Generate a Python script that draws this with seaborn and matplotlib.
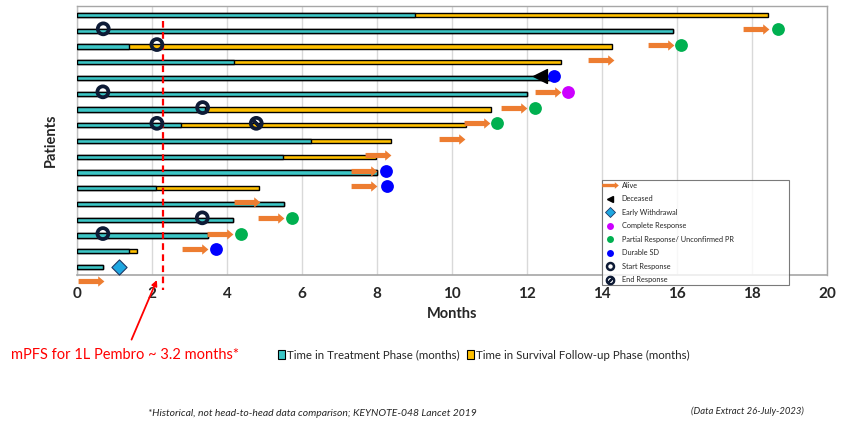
import numpy as np
import pandas as pd
import seaborn as sns
import matplotlib
matplotlib.use("Agg")
import matplotlib.pyplot as plt
from matplotlib.path import Path
from matplotlib.lines import Line2D
from matplotlib.patches import Patch

# ---------------- data ----------------
patients = [f"Patient {i}" for i in range(1, 18)]
treatment_months = [9.0, 15.9, 1.39, 4.19, 12.6, 12.0, 3.4, 2.78, 6.24, 5.5, 8.0, 2.1, 5.52, 4.17, 3.49, 1.39, 0.69]
total_months = [18.43, 15.9, 14.27, 12.9, 12.6, 12.0, 11.04, 10.37, 8.37, 7.97, 8.0, 4.86, 5.52, 4.17, 3.49, 1.6, 0.69]

# row positions are 0-based (0 = top patient)
alive_row = [1, 2, 3, 5, 6, 7, 8, 9, 10, 11, 12, 13, 14, 15, 17]
alive_end = [18.45, 15.9, 14.3, 12.9, 12.0, 11.0, 10.35, 8.37, 8.0, 8.0, 4.86, 5.52, 4.16, 3.49, 0.7]

deceased_row = [4]
deceased_x = [12.35]

withdrawal_row = [16]
withdrawal_x = [1.12]

complete_row = [5]
complete_x = [13.1]

partial_row = [1, 2, 6, 7, 13, 14]
partial_x = [18.7, 16.1, 12.2, 11.2, 5.73, 4.37]

durable_row = [4, 10, 11, 15]
durable_x = [12.72, 8.24, 8.26, 3.71]

start_row = [1, 2, 5, 6, 7, 13, 14]
start_x = [0.7, 2.13, 0.69, 3.35, 2.13, 3.34, 0.69]

end_row = [7]
end_x = [4.78]

mpfs_x = 2.29
x_ticks = list(range(0, 21, 2))

# ---------------- style ----------------
TEAL = "#3CC6C6"
GOLD = "#FFC000"
ORANGE = "#ED7D31"
GREEN = "#00B050"
BLUE = "#0000FF"
MAGENTA = "#CC00FF"
DIAMOND = "#1EA7E1"
NAVY = "#0E1B36"

sns.set_style("white")
plt.rcParams["font.family"] = ["Lato", "DejaVu Sans"]

fig = plt.figure(figsize=(8.42, 4.28), dpi=100)
ax = fig.add_axes([77 / 842, 1 - 275 / 428, 750 / 842, 269 / 428])

df = pd.DataFrame({"patient": patients, "treatment": treatment_months, "total": total_months})
sns.barplot(data=df, x="total", y="patient", orient="h", color=GOLD, saturation=1,
            width=0.28, edgecolor="black", linewidth=1, ax=ax, zorder=3)
sns.barplot(data=df, x="treatment", y="patient", orient="h", color=TEAL, saturation=1,
            width=0.28, edgecolor="black", linewidth=1, ax=ax, zorder=3)

# block-arrow marker
arrow_path = Path([(-0.5, -0.1), (0.26, -0.1), (0.26, -0.2), (0.5, 0.0),
                   (0.26, 0.2), (0.26, 0.1), (-0.5, 0.1), (-0.5, -0.1)],
                  [Path.MOVETO] + [Path.LINETO] * 6 + [Path.CLOSEPOLY])

off = 0.12
ARROW_LEN = 0.68
ax.scatter(np.array(alive_end) - ARROW_LEN / 2, np.array(alive_row) - off, marker=arrow_path,
           s=18.6 ** 2, color=ORANGE, linewidths=0, zorder=5, clip_on=False)
ax.scatter(deceased_x, np.array(deceased_row) - off, marker="<", s=100, color="black", zorder=6)
ax.scatter(durable_x, np.array(durable_row) - off, marker="o", s=85, color=BLUE, linewidths=0, zorder=5)
ax.scatter(partial_x, np.array(partial_row) - off, marker="o", s=85, color=GREEN, linewidths=0, zorder=5)
ax.scatter(complete_x, np.array(complete_row) - off, marker="o", s=85, color=MAGENTA, linewidths=0, zorder=5)
ax.scatter(withdrawal_x, np.array(withdrawal_row), marker="D", s=60, color=DIAMOND,
           edgecolors="#1F3864", linewidths=0.8, zorder=5)
ax.scatter(start_x, np.array(start_row) - off, marker="o", s=62, facecolors="none",
           edgecolors=NAVY, linewidths=2.7, zorder=6)
ax.scatter(end_x, np.array(end_row) - off, marker="o", s=62, facecolors="none",
           edgecolors=NAVY, linewidths=2.7, zorder=6)
ax.scatter(end_x, np.array(end_row) - off, marker=(2, 2, 45), s=45,
           color=NAVY, linewidths=2.4, zorder=7)

# mPFS line
ax.plot([mpfs_x, mpfs_x], [0.38, 17.45], color="#FF0000", lw=1.6, ls=(0, (3, 2)),
        zorder=4, clip_on=False)

ax.set_xlim(0, 20)
ax.set_ylim(16.51, -0.57)
ax.set_xticks(x_ticks)
ax.set_xticklabels([str(t) for t in x_ticks], fontweight="bold", fontsize=11)
ax.tick_params(axis="x", length=0, pad=9)
ax.set_yticks([])
ax.set_ylabel("Patients", fontweight="bold", fontsize=10.5, labelpad=14)
ax.set_xlabel("Months", fontweight="bold", fontsize=10.5, labelpad=4)
ax.grid(axis="x", color="#D9D9D9", lw=1)
ax.set_axisbelow(True)
for side in ["top", "right", "left"]:
    ax.spines[side].set_color("#A6A6A6")
    ax.spines[side].set_linewidth(1)
ax.spines["left"].set_color("#BFBFBF")
ax.spines["bottom"].set_color("#A6A6A6")
ax.spines["bottom"].set_linewidth(1.2)

# annotation
ax.annotate("mPFS for 1L Pembro ~ 3.2 months*", xy=(2.13, 16.83), xycoords="data",
            xytext=(125, 428 - 355), textcoords="figure pixels", ha="center", va="center",
            color="#FF0000", fontsize=10.5,
            arrowprops=dict(arrowstyle="-|>", color="#FF0000", lw=1.3, shrinkA=4, shrinkB=0,
                            mutation_scale=8), annotation_clip=False)

# marker legend
leg_handles = [
    Line2D([], [], ls="none", marker=arrow_path, markersize=12, color=ORANGE, markeredgewidth=0),
    Line2D([], [], ls="none", marker="<", markersize=5, color="black"),
    Line2D([], [], ls="none", marker="D", markersize=5, color=DIAMOND, markeredgecolor="#1F3864", markeredgewidth=0.6),
    Line2D([], [], ls="none", marker="o", markersize=5, color=MAGENTA, markeredgewidth=0),
    Line2D([], [], ls="none", marker="o", markersize=5, color=GREEN, markeredgewidth=0),
    Line2D([], [], ls="none", marker="o", markersize=5, color=BLUE, markeredgewidth=0),
    Line2D([], [], ls="none", marker="o", markersize=5, markerfacecolor="none", markeredgecolor=NAVY, markeredgewidth=1.8),
    Line2D([], [], ls="none", marker="$\\oslash$", markersize=6, color=NAVY),
]
leg_labels = ["Alive", "Deceased", "Early Withdrawal", "Complete Response",
              "Partial Response/ Unconfirmed PR", "Durable SD", "Start Response", "End Response"]
lg = fig.legend(leg_handles, leg_labels, loc="upper left",
                bbox_to_anchor=(602 / 842, 1 - 180 / 428, 187 / 842, 0.001), mode="expand",
                fontsize=5.3, frameon=True, fancybox=False, edgecolor="#595959",
                labelspacing=0.88, borderpad=0.3, handlelength=1.7, handletextpad=0.7,
                borderaxespad=0)
lg.get_frame().set_linewidth(0.8)

# bar legend
bar_handles = [Patch(facecolor=TEAL, edgecolor="black", lw=0.8),
               Patch(facecolor=GOLD, edgecolor="black", lw=0.8)]
fig.legend(bar_handles, ["Time in Treatment Phase (months)", "Time in Survival Follow-up Phase (months)"],
           loc="center left", bbox_to_anchor=(278 / 842, 1 - 355 / 428), ncol=2, frameon=False,
           fontsize=8.3, handlelength=0.6, handleheight=0.8, handletextpad=0.2, columnspacing=0.6,
           borderaxespad=0, borderpad=0)

fig.text(148 / 842, 1 - 413 / 428, "*Historical, not head-to-head data comparison; KEYNOTE-048 Lancet 2019",
         fontsize=7.5, style="italic", va="center", ha="left")
fig.text(804 / 842, 1 - 411 / 428, "(Data Extract 26-July-2023)",
         fontsize=6.8, style="italic", va="center", ha="right")

fig.savefig("out.png", dpi=100)
